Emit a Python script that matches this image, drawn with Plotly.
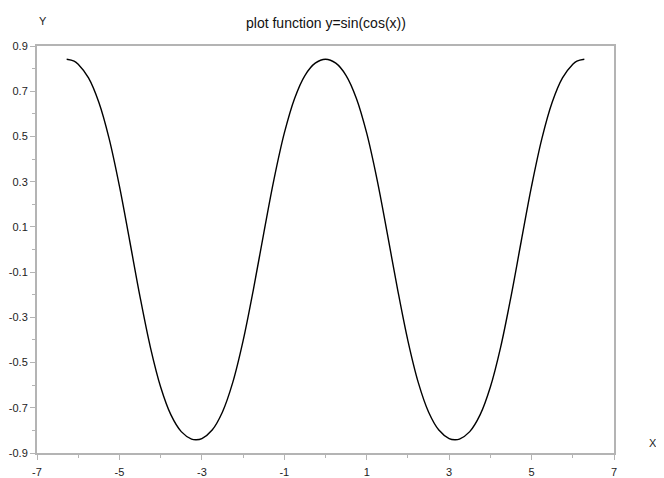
import plotly.graph_objects as go

# values, y = sin(cos(x)) over [-2pi, 2pi]
x_vals = [-6.28, -6.1, -6.0, -5.75, -5.5, -5.25, -5.0, -4.75, -4.5, -4.25, -4.0,
          -3.75, -3.5, -3.25, -3.14, -3.0, -2.75, -2.5, -2.25, -2.0, -1.75,
          -1.5, -1.25, -1.0, -0.75, -0.5, -0.25, 0.0,
          0.25, 0.5, 0.75, 1.0, 1.25, 1.5, 1.75, 2.0, 2.25, 2.5, 2.75, 3.0,
          3.14, 3.25, 3.5, 3.75, 4.0, 4.25, 4.5, 4.75, 5.0, 5.25, 5.5, 5.75,
          6.0, 6.1, 6.28]
y_vals = [0.8415, 0.8334, 0.8195, 0.7586, 0.6508, 0.4901, 0.2799, 0.0376, -0.2092,
          -0.4315, -0.6081, -0.7316, -0.8054, -0.8383, -0.8415, -0.8360,
          -0.7983, -0.7184, -0.5877, -0.4042, -0.1773, 0.0706, 0.3101, 0.5144,
          0.6682, 0.7694, 0.8241, 0.8415,
          0.8241, 0.7694, 0.6682, 0.5144, 0.3101, 0.0706, -0.1773, -0.4042,
          -0.5877, -0.7184, -0.7983, -0.8360, -0.8415, -0.8383, -0.8054,
          -0.7316, -0.6081, -0.4315, -0.2092, 0.0376, 0.2799, 0.4901, 0.6508,
          0.7586, 0.8195, 0.8334, 0.8415]

x_ticks = [-7, -5, -3, -1, 1, 3, 5, 7]
x_labels = ["-7", "-5", "-3", "-1", "1", "3", "5", "7"]
y_ticks = [-0.9, -0.7, -0.5, -0.3, -0.1, 0.1, 0.3, 0.5, 0.7, 0.9]
y_labels = ["-0.9", "-0.7", "-0.5", "-0.3", "-0.1", "0.1", "0.3", "0.5", "0.7", "0.9"]

title_text = "plot function y=sin(cos(x))"
FRAME = "#b4b4b4"
FONT = "Liberation Sans, Arial, sans-serif"

fig = go.Figure()
fig.add_trace(go.Scatter(
    x=x_vals, y=y_vals, mode="lines",
    line=dict(color="black", width=1.4, shape="spline", smoothing=1.0),
    showlegend=False, hoverinfo="skip"
))

axis_common = dict(
    showline=True, mirror=True, linecolor=FRAME, linewidth=2,
    showgrid=False, zeroline=False, ticks="outside", ticklen=5,
    tickcolor=FRAME, tickwidth=1, automargin=False,
    tickfont=dict(family=FONT, size=11, color="#222222"),
)

fig.update_xaxes(
    range=[-7, 7], tickmode="array", tickvals=x_ticks, ticktext=x_labels,
    ticklabelstandoff=3,
    minor=dict(dtick=1, tick0=-7, ticks="outside", ticklen=3,
               tickcolor=FRAME, tickwidth=1),
    **axis_common
)
fig.update_yaxes(
    range=[-0.9, 0.9], tickmode="array", tickvals=y_ticks, ticktext=y_labels,
    minor=dict(dtick=0.1, tick0=-0.9, ticks="outside", ticklen=3,
               tickcolor=FRAME, tickwidth=1),
    **axis_common
)

fig.add_annotation(text=title_text, xref="paper", yref="paper",
                   x=0.5, y=1, yshift=33, showarrow=False,
                   font=dict(family=FONT, size=14, color="#111111"))
fig.add_annotation(text="Y", xref="paper", yref="paper",
                   x=0, y=1, yshift=33, showarrow=False,
                   font=dict(family=FONT, size=11, color="#222222"))
fig.add_annotation(text="X", xref="paper", yref="paper",
                   x=1, y=0, xanchor="center", xshift=39, yshift=2,
                   showarrow=False,
                   font=dict(family=FONT, size=11, color="#222222"))

# page body adds an 8px offset, so the figure is 16px smaller than the window
fig.update_layout(
    width=656, height=470,
    margin=dict(l=29, r=50, t=38, b=25),
    paper_bgcolor="white", plot_bgcolor="white",
)

fig.write_html("out.html")
